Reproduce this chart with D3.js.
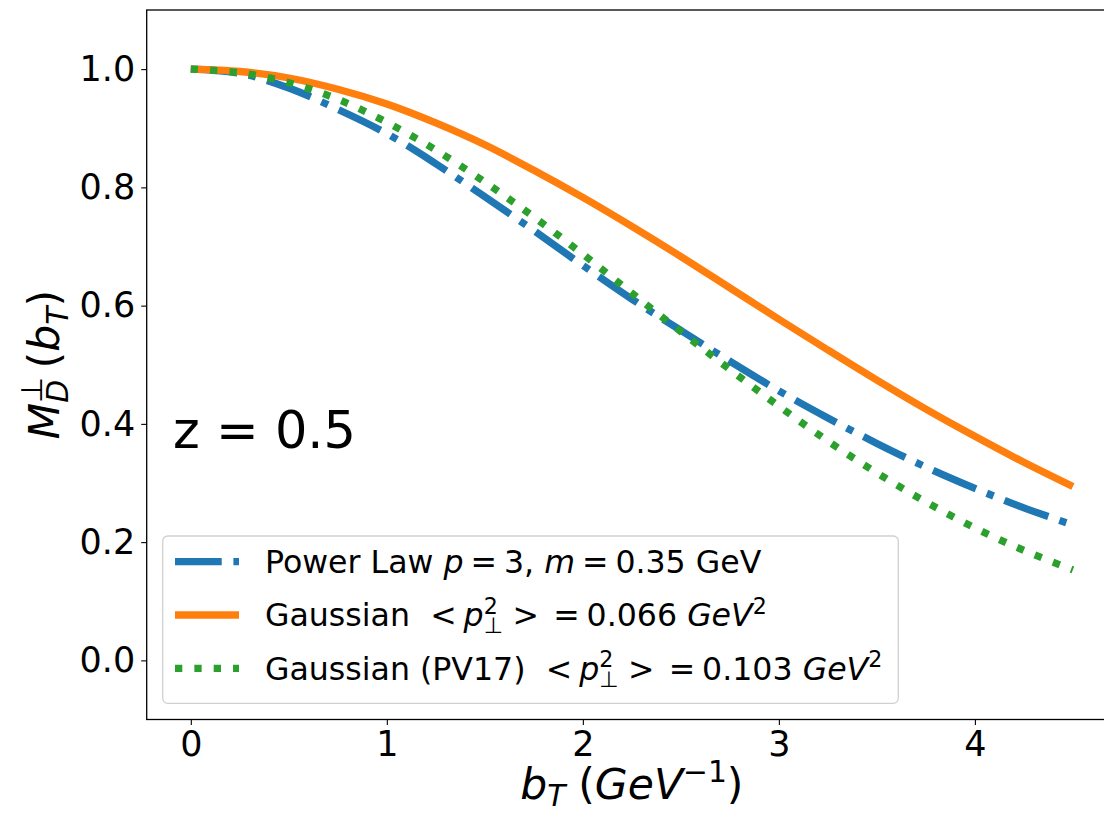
<!DOCTYPE html>
<html><head><meta charset="utf-8">
<script src="https://cdn.jsdelivr.net/npm/d3@7"></script>
<style>
html,body{margin:0;padding:0;background:#fff;}
svg text{font-family:"DejaVu Sans",sans-serif;fill:#000;}
</style></head>
<body><svg id="c" width="1104" height="813"></svg>
<script>
// ---- data ----
const bT = [0,0.25,0.5,0.75,1.0,1.25,1.5,1.75,2.0,2.25,2.5,2.75,3.0,3.25,3.5,3.75,4.0,4.25,4.5];
const powerLaw = [1.000,0.993,0.968,0.932,0.891,0.840,0.784,0.727,0.668,0.611,0.558,0.506,0.456,0.410,0.367,0.327,0.291,0.258,0.229];
const gaussian = [1.000,0.996,0.985,0.966,0.941,0.909,0.872,0.829,0.783,0.734,0.683,0.630,0.577,0.525,0.474,0.425,0.379,0.335,0.294];
const gaussPV17 = [1.000,0.994,0.977,0.949,0.910,0.863,0.809,0.750,0.687,0.621,0.556,0.492,0.430,0.371,0.317,0.268,0.224,0.186,0.153];
const xTicks = [0,1,2,3,4];
const yTicks = [0.0,0.2,0.4,0.6,0.8,1.0];
const xDomain = [-0.225, 4.725];
const yDomain = [-0.1, 1.1];

const svg = d3.select("#c");
svg.append("rect").attr("width",1104).attr("height",813).attr("fill","#fff");

const L = 146.7, R = 1117, T = 10, B = 719.5;
const x = d3.scaleLinear().domain(xDomain).range([L, R]);
const y = d3.scaleLinear().domain(yDomain).range([B, T]);

const lw = 7.3;
const series = [
  {name:"pl", vals:powerLaw, color:"#1f77b4", dash:[6.4*lw,1.6*lw,1.0*lw,1.6*lw].join(" ")},
  {name:"g", vals:gaussian, color:"#ff7f0e", dash:null},
  {name:"pv", vals:gaussPV17, color:"#2ca02c", dash:[1*lw,1.65*lw].join(" ")}
];

svg.append("clipPath").attr("id","clip").append("rect")
  .attr("x",L).attr("y",T).attr("width",R-L).attr("height",B-T);

const line = d3.line().x(d=>x(d[0])).y(d=>y(d[1])).curve(d3.curveCatmullRom.alpha(0.5));
const plotG = svg.append("g").attr("clip-path","url(#clip)");
series.forEach(s=>{
  plotG.append("path").datum(bT.map((b,i)=>[b,s.vals[i]]))
    .attr("d",line).attr("fill","none").attr("stroke",s.color)
    .attr("stroke-width",lw).attr("stroke-linecap","butt")
    .attr("stroke-dasharray",s.dash);
});

// axes
const tickFs = 35;
const xAxis = d3.axisBottom(x).tickValues(xTicks).tickFormat(d3.format("d")).tickSize(5.5).tickPadding(6);
const yAxis = d3.axisLeft(y).tickValues(yTicks).tickFormat(d3.format(".1f")).tickSize(5.5).tickPadding(6);
const gx = svg.append("g").attr("transform",`translate(0,${B})`).call(xAxis);
const gy = svg.append("g").attr("transform",`translate(${L},0)`).call(yAxis);
[gx,gy].forEach(g=>{
  g.select(".domain").remove();
  g.selectAll(".tick line").attr("stroke","#000").attr("stroke-width",1.1);
  g.selectAll(".tick text").attr("font-size",tickFs).attr("font-family","DejaVu Sans").attr("fill","#000");
});
// spines
svg.append("rect").attr("x",L).attr("y",T).attr("width",R-L).attr("height",B-T)
  .attr("fill","none").attr("stroke","#000").attr("stroke-width",1.3);

// math text helper: segments laid out left to right.
// {base, stack:[sup, sub]} draws a symbol with stacked sup/sub in ONE text element.
function mathText(parent, segs, fs, subOff){
  const so = subOff===undefined ? 0.22 : subOff;
  const g = parent.append("g");
  let cx = 0;
  segs.forEach(s=>{
    if (s.gap!==undefined){ cx += s.gap*fs; return; }
    if (s.stack){
      const small = fs*0.7;
      const t = g.append("text").attr("x",cx).attr("y",0).attr("font-size",fs);
      const base = t.append("tspan").attr("font-style",s.it?"italic":"normal").text(s.t);
      const w0 = base.node().getComputedTextLength();
      const a = t.append("tspan").attr("font-size",small).attr("dy",-fs*0.40)
        .attr("font-style",s.stack[0].it?"italic":"normal").text(s.stack[0].t);
      const wa = a.node().getComputedTextLength();
      const b = t.append("tspan").attr("font-size",small).attr("dx",-wa).attr("dy",fs*0.62)
        .attr("font-style",s.stack[1].it?"italic":"normal").text(s.stack[1].t);
      const wb = b.node().getComputedTextLength();
      cx += w0 + Math.max(wa,wb);
      return;
    }
    const size = (s.sup||s.sub) ? fs*0.7 : fs;
    const dy = s.sup ? -fs*0.40 : (s.sub ? fs*so : 0);
    const t = g.append("text").attr("x",cx).attr("y",dy)
      .attr("font-size",size).attr("font-style",s.it?"italic":"normal")
      .style("white-space","pre").text(s.t);
    cx += t.node().getComputedTextLength();
  });
  return {g, width: cx};
}

// legend
const legFs = 31.6;
const lg = svg.append("g");
lg.append("rect").attr("x",162.7).attr("y",536).attr("width",735.6).attr("height",167.3)
  .attr("rx",5).attr("fill","#fff").attr("fill-opacity",0.8).attr("stroke","#d0d0d0").attr("stroke-width",1.3);
const rows = [561.7, 615, 668.3];
const legTexts = [
  [{t:"Power Law"},{gap:0.32},{t:"p",it:true},{gap:0.22},{t:"="},{gap:0.22},{t:"3,"},{gap:0.32},{t:"m",it:true},{gap:0.22},{t:"="},{gap:0.22},{t:"0.35"},{gap:0.32},{t:"GeV"}],
  [{t:"Gaussian"},{gap:0.64},{t:"<"},{gap:0.22},{t:"p",it:true,stack:[{t:"2"},{t:"⊥"}]},{gap:0.3},{t:">"},{gap:0.45},{t:"="},{gap:0.22},{t:"0.066"},{gap:0.32},{t:"GeV",it:true},{t:"2",sup:true}],
  [{t:"Gaussian (PV17)"},{gap:0.64},{t:"<"},{gap:0.22},{t:"p",it:true,stack:[{t:"2"},{t:"⊥"}]},{gap:0.3},{t:">"},{gap:0.45},{t:"="},{gap:0.22},{t:"0.103"},{gap:0.32},{t:"GeV",it:true},{t:"2",sup:true}]
];
series.forEach((s,i)=>{
  const yy = rows[i];
  lg.append("line").attr("x1",175).attr("x2",239).attr("y1",yy).attr("y2",yy)
    .attr("stroke",s.color).attr("stroke-width",lw).attr("stroke-dasharray",s.dash);
  const m = mathText(lg, legTexts[i], legFs);
  m.g.attr("transform",`translate(265,${yy+legFs*0.36})`);
});

// z label
svg.append("text").attr("x",173).attr("y",448).attr("font-size",51).style("white-space","pre").text("z = 0.5");

// axis labels
const labFs = 42.5;
const xl = mathText(svg, [{t:"b",it:true},{t:"T",sub:true,it:true},{gap:0.3},{t:"("},{t:"GeV",it:true},{t:"−1",sup:true},{t:")"}], labFs, 0.16);
xl.g.attr("transform",`translate(${(L+R)/2 - xl.width/2},799)`);
const yl = mathText(svg, [{t:"M",it:true,stack:[{t:"⊥"},{t:"D",it:true}]},{gap:0.2},{t:"("},{t:"b",it:true},{t:"T",sub:true,it:true},{t:")"}], labFs);
yl.g.attr("transform",`translate(58.5,${(T+B)/2 + yl.width/2}) rotate(-90)`);
</script></body></html>
